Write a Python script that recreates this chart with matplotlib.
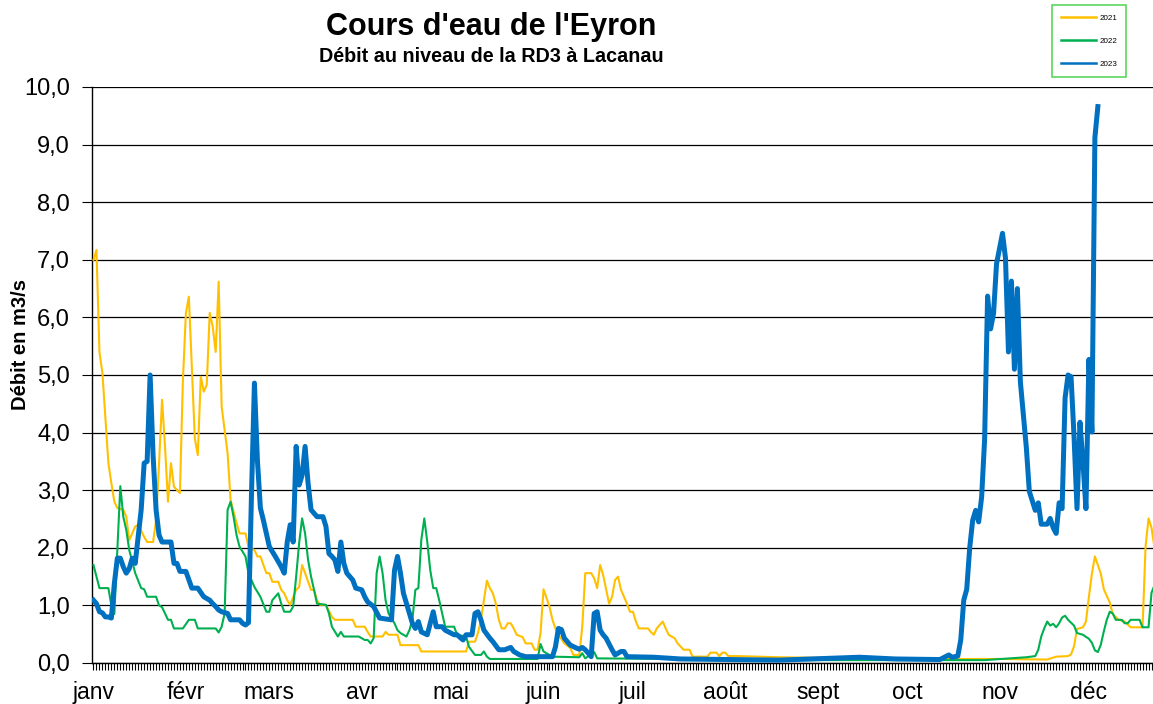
import matplotlib.pyplot as plt
from matplotlib.lines import Line2D
from matplotlib.ticker import MultipleLocator, FuncFormatter

# Débits relevés (jour de l'année, m3/s)

jours_2021 = [1, 2, 3, 4, 6, 7, 8, 9, 11, 12, 13, 15, 16, 18, 19, 21, 22, 23, 24, 25,
              26, 27, 28, 30, 31, 32, 33, 35, 36, 37, 38, 39, 40, 41, 42, 43, 44, 46, 47, 49,
              50, 52, 53, 55, 56, 57, 59, 60, 61, 63, 64, 65, 66, 67, 69, 70, 71, 72, 74, 75,
              76, 77, 79, 81, 82, 88, 89, 92, 93, 94, 98, 99, 100, 103, 104, 110, 111, 126, 127, 129,
              130, 131, 133, 134, 135, 136, 137, 138, 139, 140, 141, 142, 143, 145, 146, 148, 149, 150, 151, 152,
              154, 155, 156, 157, 159, 161, 162, 164, 165, 166, 168, 169, 170, 171, 172, 174, 175, 176, 177, 178,
              180, 181, 182, 183, 184, 187, 188, 189, 190, 192, 193, 194, 196, 197, 199, 201, 202, 207, 208, 210,
              211, 212, 213, 214, 217, 231, 258, 272, 305, 321, 324, 328, 329, 330, 331, 333, 334, 335, 336, 337,
              339, 340, 342, 343, 345, 347, 349, 353, 354, 355, 356, 357]
debit_2021 = [7.0, 7.17, 5.4, 5.03, 3.47, 3.12, 2.8, 2.69, 2.66, 2.54, 2.13, 2.37, 2.4, 2.19, 2.1, 2.1, 2.48, 3.47, 4.57, 3.76,
              2.8, 3.47, 3.06, 2.95, 4.91, 6.07, 6.36, 3.9, 3.61, 4.97, 4.71, 4.83, 6.08, 5.84, 5.4, 6.62, 4.45, 3.64, 2.83, 2.43,
              2.25, 2.25, 2.02, 1.96, 1.85, 1.85, 1.56, 1.56, 1.41, 1.41, 1.27, 1.21, 1.09, 1.01, 1.27, 1.32, 1.7, 1.56, 1.27, 1.27,
              1.09, 1.01, 1.01, 0.8, 0.75, 0.75, 0.63, 0.63, 0.54, 0.46, 0.46, 0.54, 0.49, 0.49, 0.31, 0.31, 0.2, 0.2, 0.37, 0.37,
              0.52, 0.75, 1.43, 1.3, 1.21, 1.03, 0.75, 0.6, 0.6, 0.69, 0.69, 0.6, 0.49, 0.45, 0.34, 0.34, 0.23, 0.23, 0.52, 1.28,
              0.98, 0.75, 0.6, 0.49, 0.34, 0.26, 0.14, 0.14, 0.63, 1.56, 1.56, 1.47, 1.3, 1.7, 1.53, 1.03, 1.15, 1.44, 1.5, 1.27,
              1.03, 0.89, 0.89, 0.72, 0.6, 0.6, 0.54, 0.49, 0.6, 0.72, 0.6, 0.49, 0.43, 0.34, 0.23, 0.23, 0.11, 0.11, 0.18, 0.18,
              0.12, 0.18, 0.18, 0.12, 0.12, 0.1, 0.08, 0.07, 0.07, 0.06, 0.11, 0.12, 0.15, 0.29, 0.59, 0.62, 0.72, 1.15, 1.55, 1.85,
              1.55, 1.28, 1.05, 0.85, 0.75, 0.72, 0.62, 0.62, 2.02, 2.51, 2.35, 2.0]

jours_2022 = [1, 3, 6, 7, 8, 10, 11, 12, 13, 15, 17, 18, 19, 22, 23, 24, 26, 27, 28, 31,
              33, 35, 36, 42, 43, 44, 45, 46, 47, 48, 49, 50, 52, 53, 55, 57, 59, 60, 61, 63,
              64, 65, 67, 68, 69, 70, 71, 72, 73, 74, 75, 76, 79, 80, 81, 83, 84, 85, 90, 92,
              93, 94, 95, 96, 97, 98, 99, 100, 102, 103, 104, 106, 107, 108, 109, 110, 111, 112, 113, 114,
              115, 116, 117, 118, 119, 122, 123, 126, 127, 129, 131, 132, 133, 134, 150, 151, 152, 155, 164, 165,
              166, 169, 170, 200, 240, 300, 314, 317, 318, 319, 320, 321, 322, 323, 324, 325, 326, 327, 328, 330,
              331, 333, 335, 336, 337, 338, 339, 340, 341, 342, 343, 344, 346, 347, 348, 349, 352, 353, 355, 356,
              357]
debit_2022 = [1.7, 1.3, 1.3, 1.0, 0.85, 3.07, 2.54, 2.31, 1.96, 1.56, 1.3, 1.28, 1.15, 1.15, 1.0, 0.97, 0.75, 0.75, 0.6, 0.6,
              0.75, 0.75, 0.6, 0.6, 0.53, 0.63, 0.86, 2.66, 2.8, 2.54, 2.22, 2.02, 1.85, 1.56, 1.32, 1.15, 0.89, 0.89, 1.09, 1.21,
              1.03, 0.89, 0.89, 0.98, 1.5, 2.08, 2.51, 2.25, 1.79, 1.5, 1.27, 1.03, 1.01, 0.86, 0.63, 0.46, 0.54, 0.46, 0.46, 0.4,
              0.4, 0.34, 0.43, 1.56, 1.85, 1.56, 1.09, 0.86, 0.69, 0.57, 0.52, 0.46, 0.57, 0.75, 1.27, 1.3, 2.14, 2.51, 2.1, 1.61,
              1.3, 1.3, 1.09, 0.86, 0.63, 0.63, 0.49, 0.46, 0.28, 0.14, 0.14, 0.2, 0.11, 0.07, 0.07, 0.33, 0.2, 0.11, 0.1, 0.17,
              0.08, 0.19, 0.08, 0.07, 0.05, 0.05, 0.1, 0.12, 0.23, 0.46, 0.6, 0.72, 0.65, 0.68, 0.62, 0.69, 0.79, 0.82, 0.75, 0.65,
              0.52, 0.49, 0.42, 0.35, 0.22, 0.19, 0.32, 0.55, 0.75, 0.89, 0.86, 0.75, 0.75, 0.69, 0.69, 0.75, 0.75, 0.62, 0.62, 1.22,
              1.35]

jours_2023 = [1, 2, 3, 4, 5, 6, 7, 8, 9, 10, 11, 12, 13, 14, 15, 16, 17, 18, 19, 20,
              21, 22, 23, 24, 27, 28, 29, 30, 32, 34, 36, 38, 39, 40, 41, 42, 43, 44, 46, 47,
              50, 51, 52, 53, 54, 55, 56, 57, 58, 59, 60, 62, 64, 65, 66, 67, 68, 69, 70, 71,
              72, 73, 74, 76, 78, 79, 80, 81, 82, 83, 84, 85, 86, 88, 89, 91, 92, 93, 95, 97,
              101, 102, 103, 104, 105, 107, 108, 109, 110, 111, 113, 115, 116, 118, 119, 122, 123, 125, 126, 128,
              129, 130, 131, 132, 134, 135, 137, 139, 141, 142, 144, 146, 155, 156, 157, 158, 159, 161, 163, 164,
              165, 166, 168, 169, 170, 171, 172, 173, 175, 176, 178, 179, 180, 189, 198, 231, 258, 270, 285, 288,
              289, 291, 292, 293, 294, 295, 296, 297, 298, 299, 300, 301, 302, 303, 304, 305, 306, 307, 308, 309,
              310, 311, 312, 314, 315, 317, 318, 319, 321, 322, 323, 324, 325, 326, 327, 328, 329, 330, 331, 332,
              333, 334, 335, 336, 337, 338]
debit_2023 = [1.09, 1.03, 0.89, 0.87, 0.8, 0.8, 0.78, 1.38, 1.82, 1.82, 1.67, 1.56, 1.64, 1.82, 1.73, 2.19, 2.66, 3.47, 3.5, 5.0,
              3.6, 2.66, 2.22, 2.1, 2.1, 1.73, 1.73, 1.59, 1.59, 1.3, 1.3, 1.15, 1.12, 1.09, 1.03, 0.98, 0.92, 0.89, 0.86, 0.75,
              0.75, 0.69, 0.66, 0.7, 2.9, 4.86, 3.52, 2.69, 2.48, 2.25, 2.02, 1.85, 1.67, 1.56, 2.1, 2.4, 2.1, 3.76, 3.09, 3.26,
              3.76, 3.12, 2.66, 2.54, 2.54, 2.37, 1.9, 1.85, 1.79, 1.59, 2.1, 1.73, 1.56, 1.44, 1.3, 1.27, 1.15, 1.06, 0.98, 0.78,
              0.75, 1.61, 1.85, 1.56, 1.21, 0.86, 0.69, 0.6, 0.72, 0.54, 0.49, 0.89, 0.63, 0.63, 0.57, 0.49, 0.49, 0.4, 0.49, 0.49,
              0.86, 0.89, 0.75, 0.57, 0.43, 0.37, 0.23, 0.23, 0.27, 0.2, 0.14, 0.11, 0.11, 0.28, 0.6, 0.58, 0.43, 0.31, 0.26, 0.24,
              0.27, 0.23, 0.11, 0.86, 0.89, 0.57, 0.49, 0.43, 0.23, 0.14, 0.2, 0.2, 0.11, 0.1, 0.07, 0.05, 0.1, 0.07, 0.06, 0.14,
              0.1, 0.12, 0.4, 1.09, 1.28, 2.0, 2.48, 2.65, 2.45, 2.88, 3.88, 6.37, 5.8, 6.07, 6.93, 7.2, 7.46, 7.03, 5.4, 6.63,
              5.1, 6.5, 4.88, 3.74, 2.98, 2.65, 2.78, 2.41, 2.41, 2.51, 2.35, 2.25, 2.78, 2.68, 4.6, 5.0, 4.97, 3.94, 2.68, 4.18,
              3.48, 2.68, 5.27, 4.01, 9.12, 9.66]

mois = ['janv', 'févr', 'mars', 'avr', 'mai', 'juin', 'juil', 'août', 'sept', 'oct', 'nov', 'déc']
debut_mois = [1, 32, 60, 91, 121, 152, 182, 213, 244, 274, 305, 335]

jaune = '#FFC000'
vert = '#00B050'
bleu = '#0070C0'

plt.rcParams['font.family'] = ['Liberation Sans', 'DejaVu Sans']

fig = plt.figure(figsize=(11.53, 7.04), dpi=100)
ax = fig.add_axes([92 / 1153, 41 / 704, 1 - 92 / 1153, 576 / 704])

ax.plot(jours_2021, debit_2021, color=jaune, lw=1.5, zorder=3)
ax.plot(jours_2022, debit_2022, color=vert, lw=1.5, zorder=4)
ax.plot(jours_2023, debit_2023, color=bleu, lw=3.6, zorder=5, solid_joinstyle='round')

ax.set_xlim(0.5, 356.5)
ax.set_ylim(0, 10)

# Axe Y : graduations tous les 1,0 avec virgule
ax.yaxis.set_major_locator(MultipleLocator(1))
ax.yaxis.set_major_formatter(FuncFormatter(lambda v, p: f"{v:.1f}".replace('.', ',')))
ax.grid(True, axis='y', color='black', lw=0.9, zorder=1)

# Axe X : un trait par jour, libellé au début de chaque mois
ax.set_xticks(debut_mois)
ax.set_xticklabels(mois)
ax.xaxis.set_minor_locator(MultipleLocator(1))
ax.tick_params(axis='x', which='both', direction='out', length=5, width=0.8, labelsize=16.5, pad=8)
ax.tick_params(axis='y', direction='out', length=7, width=0.8, labelsize=17, pad=9)

for s in ['top', 'right']:
    ax.spines[s].set_visible(False)
ax.spines['left'].set_linewidth(1)
ax.spines['bottom'].set_linewidth(1)

fig.text(491 / 1153, 1 - 27 / 704, "Cours d'eau de l'Eyron", ha='center', va='center',
         fontsize=22, fontweight='bold')
fig.text(491 / 1153, 1 - 57 / 704, "Débit au niveau de la RD3 à Lacanau", ha='center', va='center',
         fontsize=14.2, fontweight='bold')
fig.text(21 / 1153, 1 - 344 / 704, "Débit en m3/s", rotation=90, ha='center', va='center',
         fontsize=14.5, fontweight='bold')

poignees = [Line2D([], [], color=jaune, lw=1.8),
            Line2D([], [], color=vert, lw=1.8),
            Line2D([], [], color=bleu, lw=1.8)]
leg = fig.legend(poignees, ['2021', '2022', '2023'], loc='upper left',
                 bbox_to_anchor=(1052 / 1153, 1 - 5 / 704), fontsize=5.8, frameon=True,
                 fancybox=False, handlelength=4.4, handletextpad=0.4, labelspacing=1.95,
                 borderpad=1.1, borderaxespad=0)
leg.get_frame().set_edgecolor('#33CC33')
leg.get_frame().set_linewidth(1.2)

fig.savefig('out.png', dpi=100)
